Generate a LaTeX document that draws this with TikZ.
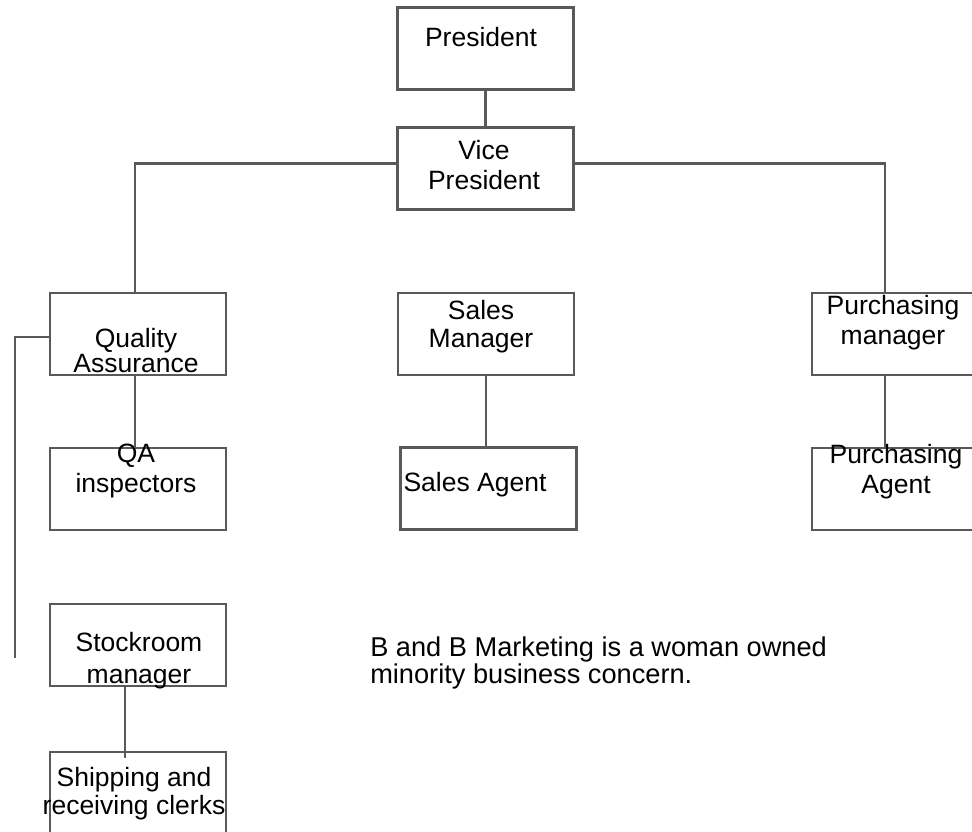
\documentclass[tikz,border=0pt]{standalone}
\usepackage{fontspec}
\setmainfont{Liberation Sans}
\usetikzlibrary{positioning,calc}

\begin{document}
\begin{tikzpicture}[x=1pt,y=-1pt,semithick]
\tikzstyle{post}=[rectangle,draw=black!65,line width=2.6pt,inner sep=0pt,outer sep=0pt,minimum width=176pt,minimum height=82pt]
  \tikzstyle{caption}=[inner sep=0pt,align=center,font=\fontsize{26.5}{30}\selectfont]
  \tikzstyle{link}=[draw=black!65,line width=2.6pt]
%
\useasboundingbox (0,0) rectangle (972,832);
\clip (0,0) rectangle (972,832);
%
\node[post] (pres) at (485.5,48.5) {};
  \node[post] (vp) at (485.5,168.5) {};
  \node[post] (qa) at (138,334) {};
  \node[post] (sm) at (486,334) {};
  \node[post,minimum width=180pt] (pm) at (902,334) {};
  \node[post] (qai) at (138,489) {};
  \node[post] (sa) at (488.5,488.5) {};
  \node[post,minimum width=180pt] (pa) at (902,489) {};
  \node[post] (stock) at (138,645) {};
  \node[post,minimum height=90pt] (ship) at (138,797) {};
  \coordinate (pmjoin) at ($(pm.north west)+(73,0)$);
  \coordinate (bracketend) at (15,658);
%
\node[caption] (presT) at (481,37) {President};
  \node[caption] (vpT) at (484,165) {Vice\\President};
  \node[caption] (qaT) at (136,351) {Quality\\[-5pt]Assurance};
  \node[caption] (smT) at (481,327) {Sales\\[-2pt]Manager};
  \node[caption] (pmT) at (893,323) {Purchasing\\manager};
  \node[caption] (qaiT) at (136,471) {QA\\inspectors};
  \node[caption] (saT) at (475,485) {Sales Agent};
  \node[caption] (paT) at (896,472) {Purchasing\\Agent};
  \node[caption] (stockT) at (139,661) {Stockroom\\[2pt]manager};
  \node[caption] (shipT) at (134,794) {Shipping and\\[-2pt]receiving clerks};
  \node[caption,align=left,anchor=west,font=\fontsize{27.2}{30}\selectfont] (note) at (370,663) {B and B Marketing is a woman owned\\[-3pt]minority business concern.};
%
\path[link] (pres.south) -- (vp.north);
  \path[link] ($(vp.west)+(0,-5)$) -| ($(qa.north)+(-3,0)$);
  \path[link] ($(vp.east)+(0,-5)$) -| (pmjoin);
  \path[link] ($(qa.south)+(-3,0)$) -- ($(qai.north)+(-3,0)$);
  \path[link] (sm.south) -- (sm.south |- sa.north);
  \path[link] (pmjoin |- pm.south) -- (pmjoin |- pa.north);
  \path[link] ($(qa.west)+(0,3)$) -| (bracketend);
  \path[link] ($(stock.south)+(-13,0)$) -- ($(stock.south)+(-13,72)$);
\end{tikzpicture}
\end{document}
